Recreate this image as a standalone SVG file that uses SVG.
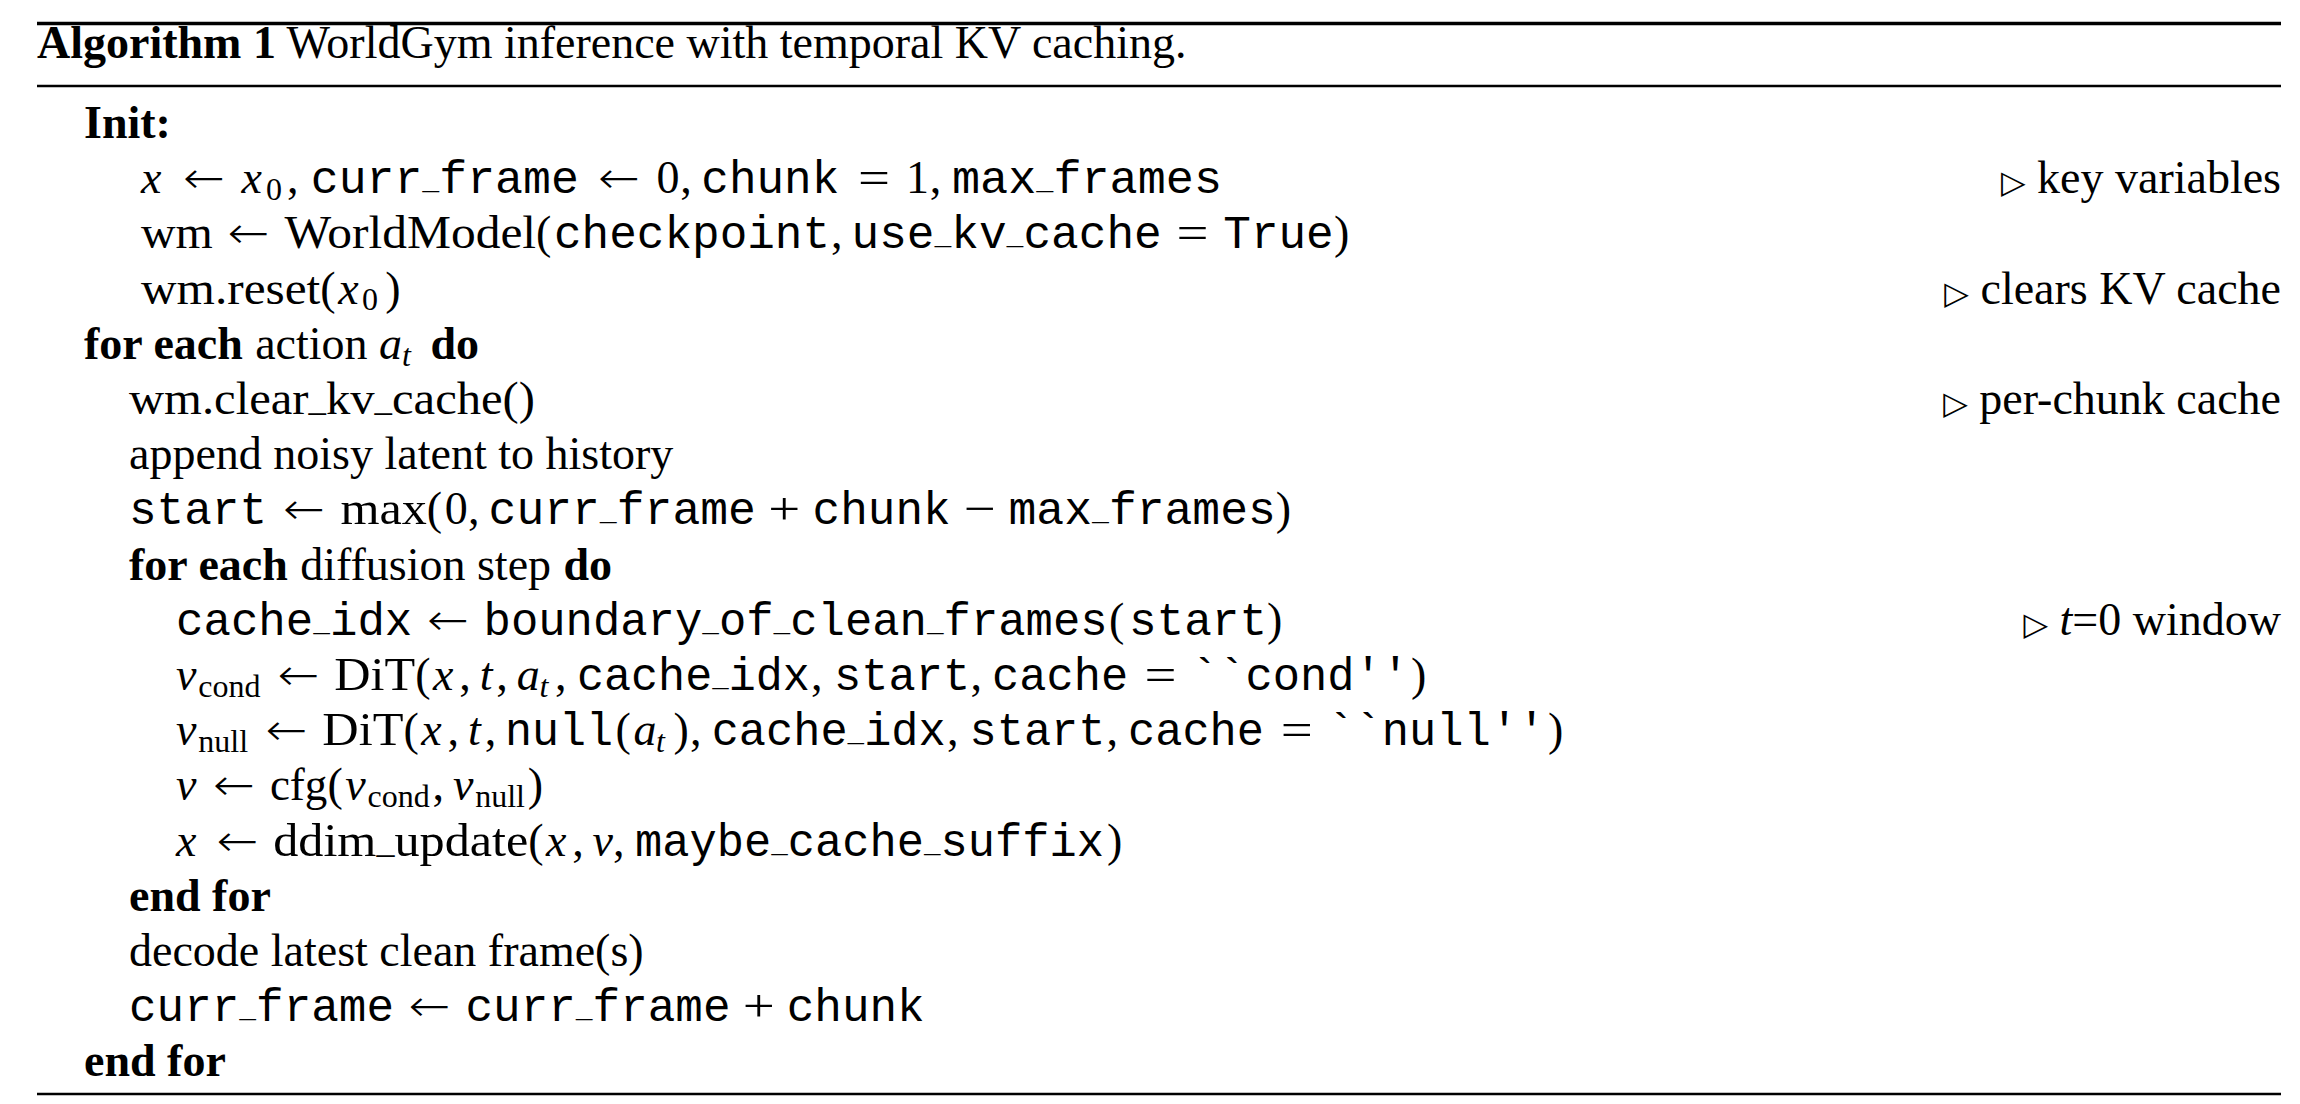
<svg xmlns="http://www.w3.org/2000/svg" width="2300" height="1104" viewBox="0 0 2300 1104">
<style>
text{font-family:"Liberation Serif","Times New Roman",serif;font-size:46px;fill:#000}
.bf{font-weight:bold}
.it{font-style:italic}
.tt{font-family:"Liberation Mono","Courier New",monospace;font-size:46px}
.us{font-size:28px}
.ur{font-size:33px}
.sub{font-size:32px}
.ar{font-family:"DejaVu Sans",sans-serif;font-weight:200;font-size:44px}
.tri{font-family:"DejaVu Sans",sans-serif;font-size:32px}
.rule{stroke:#000}
</style>
<rect width="2300" height="1104" fill="#fff"/>
<g id="rules">
<line class="rule" x1="37" y1="23.5" x2="2281" y2="23.5" stroke-width="3.7"/>
<line class="rule" x1="37" y1="86" x2="2281" y2="86" stroke-width="2.3"/>
<line class="rule" x1="37" y1="1094" x2="2281" y2="1094" stroke-width="2.5"/>
</g>
<g id="caption"><text x="37" y="58"><tspan class="bf">Algorithm 1</tspan> WorldGym inference with temporal KV caching.</text></g>
<g id="init"><text class="bf" x="84" y="138">Init:</text></g>
<g id="line1">
<text class="it" x="141" y="193.2">x</text>
<text class="ar" x="183" y="193.2" textLength="42" lengthAdjust="spacingAndGlyphs">←</text>
<text class="it" x="241.5" y="193.2">x</text>
<text class="sub" x="266" y="200">0</text>
<text x="287" y="193.2">,</text>
<text class="tt" x="310.8" y="193.2" textLength="268" lengthAdjust="spacingAndGlyphs">curr<tspan class="us" dy="-4">_</tspan><tspan dy="4">frame</tspan></text>
<text class="ar" x="598" y="193.2" textLength="42" lengthAdjust="spacingAndGlyphs">←</text>
<text x="656.6" y="193.2">0</text>
<text x="680.2" y="193.2">,</text>
<text class="tt" x="701.3" y="193.2">chunk</text>
<text x="858" y="193.2" textLength="32" lengthAdjust="spacingAndGlyphs">=</text>
<text x="906.1" y="193.2">1</text>
<text x="929.7" y="193.2">,</text>
<text class="tt" x="952" y="193.2" textLength="270" lengthAdjust="spacingAndGlyphs">max<tspan class="us" dy="-4">_</tspan><tspan dy="4">frames</tspan></text>
</g>
<g id="line2">
<text x="141" y="248.4" textLength="71.8" lengthAdjust="spacingAndGlyphs">wm</text>
<text class="ar" x="227.5" y="248.4" textLength="42" lengthAdjust="spacingAndGlyphs">←</text>
<text x="284.6" y="248.4" textLength="251.5" lengthAdjust="spacingAndGlyphs">WorldModel</text>
<text x="536.1" y="248.4">(</text>
<text class="tt" x="554" y="248.4">checkpoint</text>
<text x="831" y="248.4">,</text>
<text class="tt" x="851.5" y="248.4" textLength="310.2" lengthAdjust="spacingAndGlyphs">use<tspan class="us" dy="-4">_</tspan><tspan dy="4">kv</tspan><tspan class="us" dy="-4">_</tspan><tspan dy="4">cache</tspan></text>
<text x="1176.5" y="248.4" textLength="32" lengthAdjust="spacingAndGlyphs">=</text>
<text class="tt" x="1223.3" y="248.4">True</text>
<text x="1334" y="248.4">)</text>
</g>
<g id="line3">
<text x="141" y="303.6" textLength="179.3" lengthAdjust="spacingAndGlyphs">wm.reset</text>
<text x="320.3" y="303.6">(</text>
<text class="it" x="338.2" y="303.6">x</text>
<text class="sub" x="362" y="310.4">0</text>
<text x="385.2" y="303.6">)</text>
</g>
<g id="line4">
<text class="bf" x="84" y="358.8">for each</text>
<text x="255.2" y="358.8">action</text>
<text class="it" x="379.1" y="358.8">a</text>
<text class="it sub" x="402" y="365.6">t</text>
<text class="bf" x="430.5" y="358.8">do</text>
</g>
<g id="line5"><text x="129" y="414" textLength="406" lengthAdjust="spacingAndGlyphs">wm.clear<tspan class="ur" dy="-3">_</tspan><tspan dy="3">kv</tspan><tspan class="ur" dy="-3">_</tspan><tspan dy="3">cache()</tspan></text></g>
<g id="line6"><text x="129" y="469.2">append noisy latent to history</text></g>
<g id="line7">
<text class="tt" x="129" y="524.4">start</text>
<text class="ar" x="283" y="524.4" textLength="42" lengthAdjust="spacingAndGlyphs">←</text>
<text x="340.4" y="524.4" textLength="86.4" lengthAdjust="spacingAndGlyphs">max</text>
<text x="426.7" y="524.4">(</text>
<text x="444.8" y="524.4">0</text>
<text x="468" y="524.4">,</text>
<text class="tt" x="488.6" y="524.4" textLength="267.3" lengthAdjust="spacingAndGlyphs">curr<tspan class="us" dy="-4">_</tspan><tspan dy="4">frame</tspan></text>
<text x="768.2" y="524.4" textLength="32" lengthAdjust="spacingAndGlyphs">+</text>
<text class="tt" x="812.6" y="524.4">chunk</text>
<text x="964.1" y="524.4" textLength="32" lengthAdjust="spacingAndGlyphs">−</text>
<text class="tt" x="1008.5" y="524.4" textLength="267.3" lengthAdjust="spacingAndGlyphs">max<tspan class="us" dy="-4">_</tspan><tspan dy="4">frames</tspan></text>
<text x="1275.8" y="524.4">)</text>
</g>
<g id="line8">
<text class="bf" x="129" y="579.6">for each</text>
<text x="300.2" y="579.6">diffusion step</text>
<text class="bf" x="563.4" y="579.6">do</text>
</g>
<g id="line9">
<text class="tt" x="176" y="634.8" textLength="236.3" lengthAdjust="spacingAndGlyphs">cache<tspan class="us" dy="-4">_</tspan><tspan dy="4">idx</tspan></text>
<text class="ar" x="427" y="634.8" textLength="42" lengthAdjust="spacingAndGlyphs">←</text>
<text class="tt" x="483.6" y="634.8" textLength="624" lengthAdjust="spacingAndGlyphs">boundary<tspan class="us" dy="-4">_</tspan><tspan dy="4">of</tspan><tspan class="us" dy="-4">_</tspan><tspan dy="4">clean</tspan><tspan class="us" dy="-4">_</tspan><tspan dy="4">frames</tspan></text>
<text x="1109" y="634.8">(</text>
<text class="tt" x="1129" y="634.8">start</text>
<text x="1267" y="634.8">)</text>
</g>
<g id="line10">
<text class="it" x="176" y="690">v</text>
<text class="sub" x="198.3" y="697">cond</text>
<text class="ar" x="277.5" y="690" textLength="42" lengthAdjust="spacingAndGlyphs">←</text>
<text x="334.3" y="690" textLength="80.9" lengthAdjust="spacingAndGlyphs">DiT</text>
<text x="415.3" y="690">(</text>
<text class="it" x="433.1" y="690">x</text>
<text x="459.3" y="690">,</text>
<text class="it" x="479.7" y="690">t</text>
<text x="496.3" y="690">,</text>
<text class="it" x="516.7" y="690">a</text>
<text class="it sub" x="539.5" y="697">t</text>
<text x="555" y="690">,</text>
<text class="tt" x="576.9" y="690" textLength="233" lengthAdjust="spacingAndGlyphs">cache<tspan class="us" dy="-4">_</tspan><tspan dy="4">idx</tspan></text>
<text x="811" y="690">,</text>
<text class="tt" x="834.1" y="690" textLength="136" lengthAdjust="spacingAndGlyphs">start</text>
<text x="970.5" y="690">,</text>
<text class="tt" x="992.1" y="690" textLength="136" lengthAdjust="spacingAndGlyphs">cache</text>
<text x="1144.5" y="690" textLength="32" lengthAdjust="spacingAndGlyphs">=</text>
<text class="tt" x="1190.9" y="690" textLength="218" lengthAdjust="spacingAndGlyphs">``cond''</text>
<text x="1411.1" y="690">)</text>
</g>
<g id="line11">
<text class="it" x="176" y="745.2">v</text>
<text class="sub" x="198.3" y="752.2">null</text>
<text class="ar" x="265.5" y="745.2" textLength="42" lengthAdjust="spacingAndGlyphs">←</text>
<text x="322.3" y="745.2" textLength="81.1" lengthAdjust="spacingAndGlyphs">DiT</text>
<text x="403.5" y="745.2">(</text>
<text class="it" x="421.3" y="745.2">x</text>
<text x="447.6" y="745.2">,</text>
<text class="it" x="468.1" y="745.2">t</text>
<text x="484.7" y="745.2">,</text>
<text class="tt" x="505.1" y="745.2" textLength="108" lengthAdjust="spacingAndGlyphs">null</text>
<text x="615.5" y="745.2">(</text>
<text class="it" x="633.4" y="745.2">a</text>
<text class="it sub" x="656" y="752.2">t</text>
<text x="673.4" y="745.2">)</text>
<text x="690" y="745.2">,</text>
<text class="tt" x="711.7" y="745.2" textLength="234" lengthAdjust="spacingAndGlyphs">cache<tspan class="us" dy="-4">_</tspan><tspan dy="4">idx</tspan></text>
<text x="947" y="745.2">,</text>
<text class="tt" x="969.5" y="745.2" textLength="136" lengthAdjust="spacingAndGlyphs">start</text>
<text x="1106.5" y="745.2">,</text>
<text class="tt" x="1128" y="745.2" textLength="136" lengthAdjust="spacingAndGlyphs">cache</text>
<text x="1280.8" y="745.2" textLength="32" lengthAdjust="spacingAndGlyphs">=</text>
<text class="tt" x="1327.3" y="745.2" textLength="218" lengthAdjust="spacingAndGlyphs">``null''</text>
<text x="1548.1" y="745.2">)</text>
</g>
<g id="line12">
<text class="it" x="176" y="800.4">v</text>
<text class="ar" x="213" y="800.4" textLength="42" lengthAdjust="spacingAndGlyphs">←</text>
<text x="269.9" y="800.4" textLength="57.5" lengthAdjust="spacingAndGlyphs">cfg</text>
<text x="327.4" y="800.4">(</text>
<text class="it" x="345.3" y="800.4">v</text>
<text class="sub" x="367.6" y="807.4">cond</text>
<text x="432.5" y="800.4">,</text>
<text class="it" x="452.9" y="800.4">v</text>
<text class="sub" x="475.2" y="807.4">null</text>
<text x="527.7" y="800.4">)</text>
</g>
<g id="line13">
<text class="it" x="176" y="855.6">x</text>
<text class="ar" x="216.6" y="855.6" textLength="42" lengthAdjust="spacingAndGlyphs">←</text>
<text x="273.2" y="855.6" textLength="255.1" lengthAdjust="spacingAndGlyphs">ddim<tspan class="ur" dy="-3">_</tspan><tspan dy="3">update</tspan></text>
<text x="528.3" y="855.6">(</text>
<text class="it" x="546.1" y="855.6">x</text>
<text x="572.2" y="855.6">,</text>
<text class="it" x="592.5" y="855.6">v</text>
<text x="613" y="855.6">,</text>
<text class="tt" x="635" y="855.6" textLength="469" lengthAdjust="spacingAndGlyphs">maybe<tspan class="us" dy="-4">_</tspan><tspan dy="4">cache</tspan><tspan class="us" dy="-4">_</tspan><tspan dy="4">suffix</tspan></text>
<text x="1107" y="855.6">)</text>
</g>
<g id="line14"><text class="bf" x="129" y="910.8">end for</text></g>
<g id="line15"><text x="129" y="966">decode latest clean frame(s)</text></g>
<g id="line16">
<text class="tt" x="129" y="1021.2" textLength="265" lengthAdjust="spacingAndGlyphs">curr<tspan class="us" dy="-4">_</tspan><tspan dy="4">frame</tspan></text>
<text class="ar" x="408.5" y="1021.2" textLength="42" lengthAdjust="spacingAndGlyphs">←</text>
<text class="tt" x="465.5" y="1021.2" textLength="265" lengthAdjust="spacingAndGlyphs">curr<tspan class="us" dy="-4">_</tspan><tspan dy="4">frame</tspan></text>
<text x="742.7" y="1021.2" textLength="32" lengthAdjust="spacingAndGlyphs">+</text>
<text class="tt" x="786.7" y="1021.2">chunk</text>
</g>
<g id="line17"><text class="bf" x="84" y="1076.4">end for</text></g>
<g id="comments">
<text x="2281" y="193.2" text-anchor="end"><tspan class="tri">▷</tspan> key variables</text>
<text x="2281" y="303.6" text-anchor="end"><tspan class="tri">▷</tspan> clears KV cache</text>
<text x="2281" y="414" text-anchor="end"><tspan class="tri">▷</tspan> per-chunk cache</text>
<text x="2281" y="634.8" text-anchor="end"><tspan class="tri">▷</tspan> <tspan class="it">t</tspan>=0 window</text>
</g>
</svg>
